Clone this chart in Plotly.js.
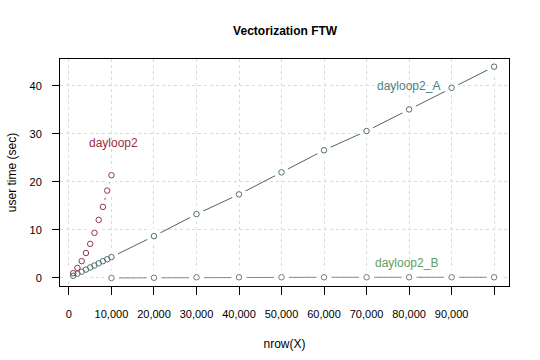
<!DOCTYPE html>
<html>
<head>
<meta charset="utf-8">
<script src="https://cdn.plot.ly/plotly-3.0.1.min.js"></script>
<style>html,body{margin:0;padding:0;background:#fff;}#chart{width:540px;height:360px;}</style>
</head>
<body>
<div id="chart"></div>
<script>
// Data
const xSmall = [1000, 2000, 3000, 4000, 5000, 6000, 7000, 8000, 9000, 10000];
const dayloop2 = [1.0, 2.1, 3.5, 5.2, 7.1, 9.4, 12.1, 14.8, 18.2, 21.4];
const xA = [1000, 2000, 3000, 4000, 5000, 6000, 7000, 8000, 9000, 10000,
            20000, 30000, 40000, 50000, 60000, 70000, 80000, 90000, 100000];
const dayloop2_A = [0.45, 0.9, 1.3, 1.75, 2.2, 2.6, 3.05, 3.5, 3.9, 4.35,
                    8.7, 13.3, 17.4, 22.0, 26.6, 30.6, 35.1, 39.6, 44.0];
const xB = [10000, 20000, 30000, 40000, 50000, 60000, 70000, 80000, 90000, 100000];
const dayloop2_B = [0.0, 0.05, 0.15, 0.15, 0.15, 0.15, 0.15, 0.15, 0.15, 0.15];
const xTickVals = [0, 10000, 20000, 30000, 40000, 50000, 60000, 70000, 80000, 90000, 100000];
const xTickText = ["0", "10,000", "20,000", "30,000", "40,000", "50,000", "60,000", "70,000", "80,000", "90,000", ""];
const yTickVals = [0, 10, 20, 30, 40];
const labels = [
  {text: "dayloop2", x: 10400, y: 28.2, color: "#9b2d4a"},
  {text: "dayloop2_A", x: 79800, y: 40.0, color: "#4f7f7f"},
  {text: "dayloop2_B", x: 79500, y: 3.2, color: "#5f9f5f"}
];

const series = [
  {x: xA, y: dayloop2_A, line: "#3f4f4f", mark: "#4f7070"},
  {x: xB, y: dayloop2_B, line: "#6a8a6a", mark: "#6a806a"},
  {x: xSmall, y: dayloop2, line: "#8b3a4a", mark: "#8b3a4a"}
];

const traces = [];
series.forEach(s => traces.push({x: s.x, y: s.y, type: "scatter", mode: "lines",
  line: {color: s.line, width: 0.9}, hoverinfo: "skip", showlegend: false}));
series.forEach(s => traces.push({x: s.x, y: s.y, type: "scatter", mode: "markers",
  marker: {symbol: "circle", size: 15, color: "#ffffff", line: {width: 0}}, hoverinfo: "skip", showlegend: false}));
series.forEach(s => traces.push({x: s.x, y: s.y, type: "scatter", mode: "markers",
  marker: {symbol: "circle-open", size: 5.5, color: s.mark, line: {width: 1, color: s.mark}}, hoverinfo: "skip", showlegend: false}));

const font = {family: "Liberation Sans, Arial, sans-serif", size: 11, color: "#000"};

const layout = {
  width: 540, height: 360,
  margin: {l: 60, r: 31, t: 59, b: 74},
  paper_bgcolor: "#fff", plot_bgcolor: "#fff",
  font: font,
  title: {text: "<b>Vectorization FTW</b>", x: 0.528, xanchor: "center", y: 0.915, yanchor: "middle",
          font: {family: "Liberation Sans, Arial, sans-serif", size: 12, color: "#000"}},
  xaxis: {
    range: [-2100, 103500], tickmode: "array", tickvals: xTickVals, ticktext: xTickText,
    ticks: "outside", ticklen: 8, tickwidth: 1, tickcolor: "#000", ticklabelstandoff: 10,
    showline: true, linecolor: "#000", linewidth: 1, mirror: true,
    showgrid: true, gridcolor: "#dadada", griddash: "dot", gridwidth: 1, zeroline: false,
    tickfont: {size: 11},
    title: {text: "nrow(X)", standoff: 20, font: {size: 12}}
  },
  yaxis: {
    range: [-1.67, 45.6], tickmode: "array", tickvals: yTickVals,
    ticks: "outside", ticklen: 7, tickwidth: 1, tickcolor: "#000", ticklabelstandoff: 8,
    showline: true, linecolor: "#000", linewidth: 1, mirror: true,
    showgrid: true, gridcolor: "#dadada", griddash: "dot", gridwidth: 1, zeroline: false,
    tickfont: {size: 11},
    title: {text: "user time (sec)", standoff: 10, font: {size: 12}}
  },
  annotations: labels.map(l => ({text: l.text, x: l.x, y: l.y, xref: "x", yref: "y",
    showarrow: false, xanchor: "center", yanchor: "middle", font: {size: 12, color: l.color}})),
  showlegend: false
};

Plotly.newPlot("chart", traces, layout, {staticPlot: true, displayModeBar: false});
</script>
</body>
</html>
